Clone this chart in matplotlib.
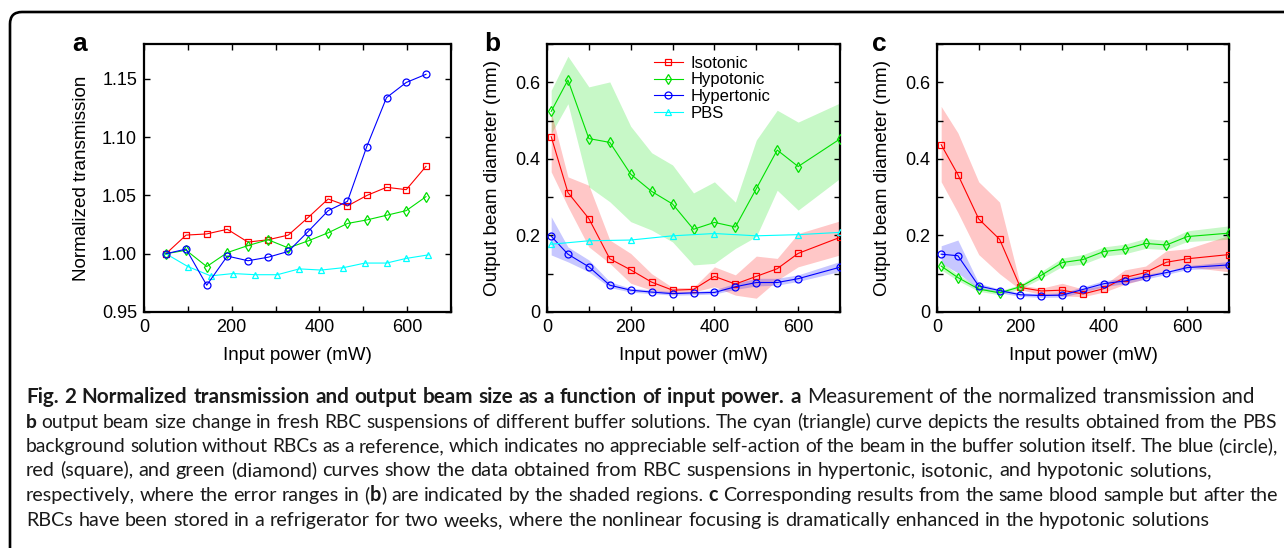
import numpy as np
import matplotlib
matplotlib.use('Agg')
from matplotlib import pyplot as plt
from matplotlib import font_manager
from matplotlib.patches import FancyBboxPatch
from matplotlib.ticker import MultipleLocator, FuncFormatter

# ---- panel a: normalized transmission ----
xa_rbc = [50, 96, 143, 190, 237, 283, 329, 374, 420, 464, 508, 553, 598, 643]
xa_pbs = [50, 100, 152, 203, 254, 304, 354, 404, 454, 504, 553, 598, 648]
iso_a = [1.000, 1.016, 1.017, 1.021, 1.010, 1.012, 1.016, 1.031, 1.047, 1.041, 1.050, 1.057, 1.055, 1.075]
hypo_a = [1.000, 1.003, 0.989, 1.001, 1.007, 1.012, 1.005, 1.011, 1.018, 1.026, 1.029, 1.033, 1.037, 1.049]
hyper_a = [1.000, 1.004, 0.973, 0.998, 0.994, 0.997, 1.002, 1.019, 1.037, 1.045, 1.092, 1.134, 1.147, 1.154]
pbs_a = [1.000, 0.989, 0.981, 0.983, 0.982, 0.982, 0.987, 0.986, 0.988, 0.992, 0.992, 0.996, 0.999]

# ---- panel b: fresh RBC, beam diameter (mm) ----
xb = [10, 50, 100, 150, 200, 250, 300, 350, 400, 450, 500, 550, 600, 700]
hypo_b = [0.524, 0.606, 0.453, 0.443, 0.360, 0.315, 0.282, 0.216, 0.234, 0.222, 0.322, 0.423, 0.380, 0.452]
hypo_b_hi = [0.579, 0.668, 0.588, 0.601, 0.485, 0.416, 0.384, 0.311, 0.340, 0.287, 0.449, 0.527, 0.496, 0.546]
hypo_b_lo = [0.466, 0.544, 0.327, 0.288, 0.236, 0.214, 0.183, 0.123, 0.127, 0.166, 0.197, 0.318, 0.266, 0.349]
iso_b = [0.458, 0.312, 0.244, 0.139, 0.110, 0.078, 0.057, 0.059, 0.093, 0.073, 0.093, 0.113, 0.153, 0.195]
iso_b_hi = [0.522, 0.353, 0.331, 0.188, 0.153, 0.100, 0.064, 0.064, 0.118, 0.097, 0.146, 0.140, 0.205, 0.238]
iso_b_lo = [0.366, 0.275, 0.170, 0.127, 0.075, 0.057, 0.049, 0.052, 0.066, 0.044, 0.036, 0.083, 0.118, 0.149]
hyper_b = [0.198, 0.151, 0.118, 0.070, 0.057, 0.052, 0.048, 0.050, 0.051, 0.066, 0.077, 0.077, 0.087, 0.117]
hyper_b_hi = [0.249, 0.170, 0.136, 0.079, 0.062, 0.058, 0.053, 0.053, 0.058, 0.075, 0.088, 0.088, 0.097, 0.132]
hyper_b_lo = [0.149, 0.131, 0.105, 0.064, 0.052, 0.048, 0.044, 0.045, 0.047, 0.059, 0.068, 0.070, 0.080, 0.106]
xb_pbs = [10, 100, 200, 300, 400, 500, 600, 700]
pbs_b = [0.177, 0.186, 0.188, 0.199, 0.205, 0.199, 0.202, 0.208]

# ---- panel c: stored RBC, beam diameter (mm) ----
xc = [10, 50, 100, 150, 200, 250, 300, 350, 400, 450, 500, 550, 600, 700]
iso_c = [0.437, 0.359, 0.243, 0.190, 0.064, 0.055, 0.057, 0.047, 0.061, 0.090, 0.103, 0.130, 0.139, 0.150]
iso_c_hi = [0.537, 0.468, 0.340, 0.287, 0.070, 0.062, 0.075, 0.060, 0.070, 0.110, 0.120, 0.160, 0.165, 0.200]
iso_c_lo = [0.340, 0.260, 0.150, 0.100, 0.058, 0.046, 0.042, 0.040, 0.052, 0.072, 0.087, 0.110, 0.118, 0.105]
hyper_c = [0.151, 0.147, 0.068, 0.056, 0.045, 0.043, 0.044, 0.059, 0.074, 0.081, 0.092, 0.103, 0.116, 0.123]
hyper_c_hi = [0.173, 0.188, 0.075, 0.060, 0.050, 0.048, 0.050, 0.066, 0.082, 0.088, 0.098, 0.108, 0.121, 0.132]
hyper_c_lo = [0.128, 0.102, 0.060, 0.050, 0.041, 0.038, 0.039, 0.052, 0.066, 0.074, 0.086, 0.098, 0.111, 0.115]
hypo_c = [0.120, 0.090, 0.060, 0.050, 0.066, 0.096, 0.129, 0.137, 0.158, 0.164, 0.179, 0.175, 0.197, 0.206]
hypo_c_hi = [0.130, 0.098, 0.065, 0.055, 0.072, 0.106, 0.141, 0.150, 0.170, 0.177, 0.192, 0.187, 0.212, 0.225]
hypo_c_lo = [0.110, 0.082, 0.054, 0.045, 0.060, 0.088, 0.119, 0.125, 0.146, 0.152, 0.166, 0.163, 0.184, 0.190]

caption = [
    [("Fig. 2 Normalized transmission and output beam size as a function of input power. a", True),
     ("Measurement of the normalized transmission and", False)],
    [("b", True),
     ("output beam size change in fresh RBC suspensions of different buffer solutions. The cyan (triangle) curve depicts the results obtained from the PBS", False)],
    [("background solution without RBCs as a reference, which indicates no appreciable self-action of the beam in the buffer solution itself. The blue (circle),", False)],
    [("red (square), and green (diamond) curves show the data obtained from RBC suspensions in hypertonic, isotonic, and hypotonic solutions,", False)],
    [("respectively, where the error ranges in (", False), ("b", True), (") are indicated by the shaded regions.", False),
     ("c", True), ("Corresponding results from the same blood sample but after the", False)],
    [("RBCs have been stored in a refrigerator for two weeks, where the nonlinear focusing is dramatically enhanced in the hypotonic solutions", False)],
]
# right end of each caption line in the reference (px)
caption_ends = [1255, 1277, 1278, 1212, 1278, 1209]

RED, GREEN, BLUE, CYAN = '#ff0000', '#00e000', '#0000ff', '#00ffff'
W, H = 1284, 548

plt.rcParams['font.family'] = ['Liberation Sans', 'DejaVu Sans']
avail = {f.name for f in font_manager.fontManager.ttflist}
cap_font = next(f for f in ['Liberation Sans Narrow', 'Lato', 'DejaVu Sans'] if f in avail)

fig = plt.figure(figsize=(W / 100, H / 100), dpi=100)


def px_axes(left, right, top, bottom):
    return fig.add_axes([left / W, 1 - bottom / H, (right - left) / W, (bottom - top) / H])


def style(ax, ylabel, ycoord):
    ax.set_xlim(0, 700)
    ax.xaxis.set_major_locator(MultipleLocator(200))
    ax.xaxis.set_minor_locator(MultipleLocator(100))
    ax.tick_params(which='both', direction='in', top=True, right=True, length=4, width=1,
                   labelsize=13, pad=5)
    for s in ax.spines.values():
        s.set_linewidth(1.6)
    ax.set_xlabel('Input power (mW)', fontsize=13.5)
    ax.xaxis.set_label_coords(0.5, -0.163)
    ax.xaxis.label.set_va('center')
    ax.set_ylabel(ylabel, fontsize=13.6)
    ax.yaxis.set_label_coords(ycoord, 0.5)
    ax.yaxis.label.set_va('center')


def plot_series(ax, x, y, color, marker, ms, label=None):
    ax.plot(x, y, color=color, lw=0.8, marker=marker, ms=ms, mfc='none', mec=color, mew=0.9,
            label=label, zorder=3)


# panel a
ax1 = px_axes(144, 451, 44, 312)
plot_series(ax1, xa_pbs, pbs_a, CYAN, '^', 5)
plot_series(ax1, xa_rbc, iso_a, RED, 's', 4)
plot_series(ax1, xa_rbc, hypo_a, GREEN, 'd', 5)
plot_series(ax1, xa_rbc, hyper_a, BLUE, 'o', 5)
ax1.set_ylim(0.95, 1.18)
ax1.yaxis.set_major_locator(MultipleLocator(0.05))
ax1.yaxis.set_major_formatter(FuncFormatter(lambda v, p: '%.2f' % v))
style(ax1, 'Normalized transmission', -0.205)

fmt = FuncFormatter(lambda v, p: '0' if abs(v) < 1e-9 else '%.1f' % v)

# panel b
ax2 = px_axes(547, 840, 44, 312)
ax2.fill_between(xb, hypo_b_lo, hypo_b_hi, color=GREEN, alpha=0.22, lw=0)
ax2.fill_between(xb, iso_b_lo, iso_b_hi, color=RED, alpha=0.22, lw=0)
ax2.fill_between(xb, hyper_b_lo, hyper_b_hi, color=BLUE, alpha=0.22, lw=0)
plot_series(ax2, xb, iso_b, RED, 's', 4, 'Isotonic')
plot_series(ax2, xb, hypo_b, GREEN, 'd', 5, 'Hypotonic')
plot_series(ax2, xb, hyper_b, BLUE, 'o', 5, 'Hypertonic')
plot_series(ax2, xb_pbs, pbs_b, CYAN, '^', 5, 'PBS')
ax2.set_ylim(0, 0.7)
ax2.yaxis.set_major_locator(MultipleLocator(0.2))
ax2.yaxis.set_minor_locator(MultipleLocator(0.1))
ax2.yaxis.set_major_formatter(fmt)
style(ax2, 'Output beam diameter (mm)', -0.185)
leg = ax2.legend(loc='upper left', bbox_to_anchor=(0.325, 1.0), frameon=False, fontsize=12,
                 handlelength=1.75, handletextpad=0.45, labelspacing=0.1, borderaxespad=0.3)

# panel c
ax3 = px_axes(937, 1229, 44, 312)
ax3.fill_between(xc, iso_c_lo, iso_c_hi, color=RED, alpha=0.22, lw=0)
ax3.fill_between(xc, hyper_c_lo, hyper_c_hi, color=BLUE, alpha=0.22, lw=0)
ax3.fill_between(xc, hypo_c_lo, hypo_c_hi, color=GREEN, alpha=0.22, lw=0)
plot_series(ax3, xc, iso_c, RED, 's', 4)
plot_series(ax3, xc, hypo_c, GREEN, 'd', 5)
plot_series(ax3, xc, hyper_c, BLUE, 'o', 5)
ax3.set_ylim(0, 0.7)
ax3.yaxis.set_major_locator(MultipleLocator(0.2))
ax3.yaxis.set_minor_locator(MultipleLocator(0.1))
ax3.yaxis.set_major_formatter(fmt)
style(ax3, 'Output beam diameter (mm)', -0.188)

# panel letters
for letter, xl in [('a', 72), ('b', 484), ('c', 872)]:
    fig.text(xl / W, 1 - 51 / H, letter, fontsize=19, weight='bold', ha='left', va='baseline')

# rounded frame around the figure (cut off at right and bottom)
frame = FancyBboxPatch((0.1, -1.0), 14.0, 5.36 + 1.0, boxstyle='round,pad=0,rounding_size=0.12',
                       transform=fig.dpi_scale_trans, fill=False, lw=1.9, ec='black', clip_on=False)
fig.patches.append(frame)

# ---- caption: word by word, each line fitted to the reference line end ----
renderer = fig.canvas.get_renderer()


def text_width(s, size, bold):
    t = fig.text(0, 0, s, fontsize=size, family=cap_font, weight='bold' if bold else 'normal')
    w = t.get_window_extent(renderer).width
    t.remove()
    return w


def tokens(parts):
    out = []
    for j, (seg, bold) in enumerate(parts):
        glue = j > 0 and (seg.startswith(')') or parts[j - 1][0].endswith('('))
        for k, word in enumerate(seg.split(' ')):
            out.append((word, bold, k > 0 or (j > 0 and not glue)))
    return out


x0 = 26
base = 10 * (caption_ends[2] - x0) / text_width(caption[2][0][0], 10, False) * 1.04
space0 = text_width('a a', base, False) - text_width('aa', base, False)

for i, parts in enumerate(caption):
    toks = tokens(parts)
    target = caption_ends[i] - x0
    widths = [text_width(w, base, b) for w, b, _ in toks]
    n_gaps = sum(1 for _, _, s in toks if s)
    natural = sum(widths) + n_gaps * space0
    scale = min(max(target / natural, 0.97), 1.04)
    size = base * scale
    gap = space0 * scale + (target - natural * scale) / max(n_gaps, 1)
    x = x0
    y = round(403 + i * 24.5)
    for (word, bold, sp), w in zip(toks, widths):
        if sp:
            x += gap
        fig.text(x / W, 1 - y / H, word, fontsize=size, family=cap_font,
                 weight='bold' if bold else 'normal', ha='left', va='baseline', color='#1a1a1a')
        x += w * scale

fig.savefig('out.png', dpi=100)
